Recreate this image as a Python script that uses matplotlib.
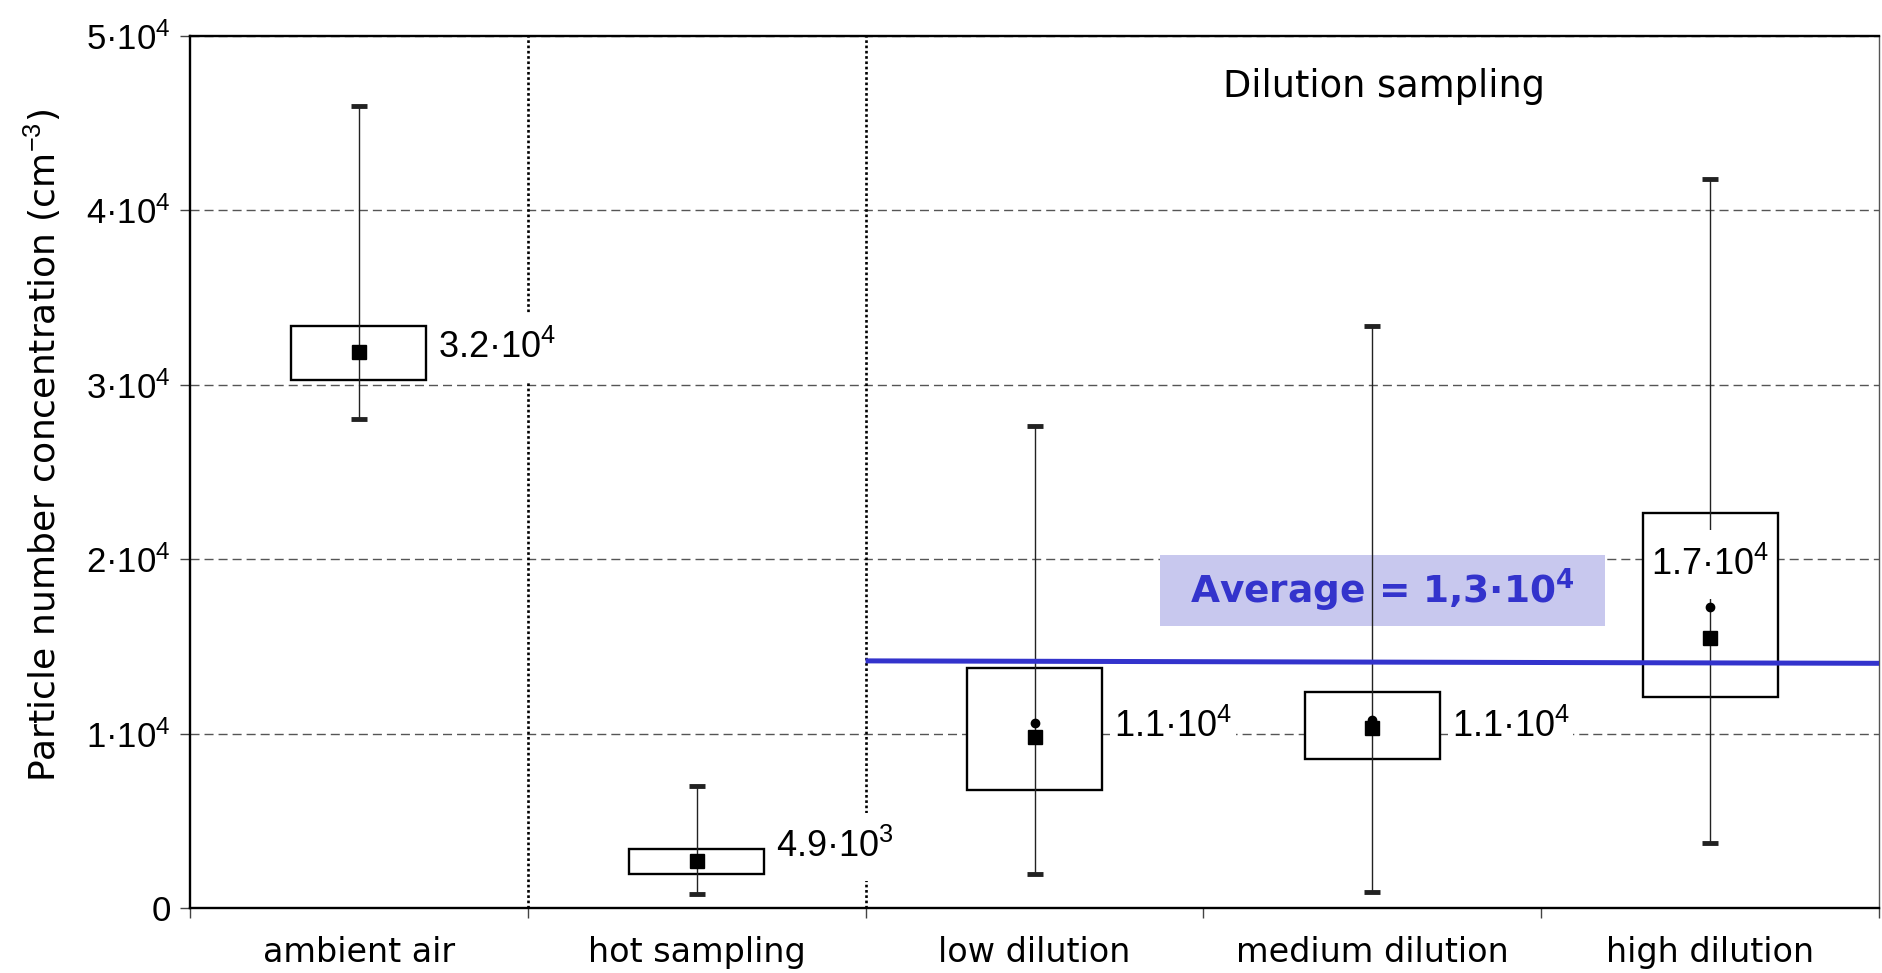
import numpy as np
import matplotlib
matplotlib.use("Agg")
import matplotlib.pyplot as plt

# ---------------- data ----------------
categories = ["ambient air", "hot sampling", "low dilution", "medium dilution", "high dilution"]
whisker_max = [46000, 7000, 27650, 33350, 41800]
whisker_min = [28050, 830, 1930, 890, 3700]
box_high = [33350, 3370, 13760, 12380, 22630]
box_low = [30260, 1930, 6740, 8530, 12100]
square_vals = [31900, 2680, 9830, 10320, 15470]
circle_vals = [np.nan, np.nan, 10590, 10800, 17260]
value_labels = ["3.2·10$^4$", "4.9·10$^3$", "1.1·10$^4$", "1.1·10$^4$", "1.7·10$^4$"]
label_y = [32100, 3500, 10400, 10400, 19700]
average_x = [1.5, 4.5]
average_y = [14170, 14030]
average_label = "Average = 1,3·10$^{\\mathbf{4}}$"
yticks = [0, 10000, 20000, 30000, 40000, 50000]
ytick_labels = ["0", "1·10$^4$", "2·10$^4$", "3·10$^4$", "4·10$^4$", "5·10$^4$"]
section_title = "Dilution sampling"
ylabel = "Particle number concentration (cm$^{\\mathrm{-3}}$)"

# ---------------- style ----------------
plt.rcParams["mathtext.fontset"] = "custom"
plt.rcParams["mathtext.rm"] = "Liberation Sans"
plt.rcParams["mathtext.it"] = "Liberation Sans:italic"
plt.rcParams["mathtext.bf"] = "DejaVu Sans:bold"

W, H = 1882, 973
fig = plt.figure(figsize=(W / 100, H / 100), dpi=100)
ax = fig.add_axes([190 / W, 1 - 908 / H, (1879 - 190) / W, (908 - 36) / H])

x = np.arange(len(categories))
ax.set_xlim(-0.5, len(categories) - 0.5)
ax.set_ylim(0, 50000)

# grid
ax.set_axisbelow(True)
ax.grid(axis="y", color="#555555", linestyle=(0, (6.5, 3.6)), linewidth=1)
ax.grid(axis="x", visible=False)

# dotted separators
for b in [0.5, 1.5]:
    ax.axvline(b, color="black", linestyle=(0, (1, 1)), linewidth=1.9, zorder=1.5)

# boxes
ax.bar(x, np.array(box_high) - np.array(box_low), bottom=box_low, width=0.4,
       facecolor="white", edgecolor="black", linewidth=1.7, zorder=3)

# whiskers
sq = np.array(square_vals)
ax.errorbar(x, sq, yerr=[sq - np.array(whisker_min), np.array(whisker_max) - sq],
            fmt="none", ecolor="#222222", elinewidth=1, capsize=6, capthick=3.5, zorder=4)

# markers
ax.plot(x, square_vals, "s", color="black", markersize=10, zorder=5, linestyle="none")
ax.plot(x, circle_vals, "o", color="black", markersize=6, zorder=5, linestyle="none")

# value labels
label_box = dict(boxstyle="square,pad=0.1", facecolor="white", edgecolor="none",
                 mutation_aspect=4.5)
for i, (t, ly) in enumerate(zip(value_labels, label_y)):
    if i == len(categories) - 1:
        ax.text(x[i], ly, t, ha="center", va="center", fontsize=26,
                family="Liberation Sans", zorder=4.5, bbox=label_box)
    else:
        ax.text(x[i] + 0.235, ly, t, ha="left", va="center", fontsize=26,
                family="Liberation Sans", zorder=4.5, bbox=label_box)

# average line
ax.plot(average_x, average_y, color="#3333cc", linewidth=3.6, zorder=6, solid_capstyle="butt")
ax.text(3.03, 18200, average_label, ha="center", va="center", fontsize=27,
        fontweight="bold", color="#3333cc", family="DejaVu Sans", zorder=3.5,
        bbox=dict(boxstyle="square,pad=0.8", facecolor="#c8c8ee", edgecolor="none",
                  mutation_aspect=0.38))

ax.text(3.035, 47100, section_title, ha="center", va="center", fontsize=26.5,
        family="DejaVu Sans")

# axes ticks
ax.set_yticks(yticks)
ax.set_yticklabels(ytick_labels, fontsize=25, family="Liberation Sans")
ax.tick_params(axis="y", direction="out", length=7, width=1, color="#444444", pad=7)

ax.set_xticks(np.arange(len(categories) + 1) - 0.5)
ax.set_xticklabels([])
ax.set_xticks(x, minor=True)
ax.set_xticklabels(categories, minor=True, fontsize=24, family="DejaVu Sans")
ax.tick_params(axis="x", which="major", direction="out", length=7, width=1, color="#444444")
ax.tick_params(axis="x", which="minor", length=0, pad=20)

for s in ["left", "bottom", "top"]:
    ax.spines[s].set_linewidth(1.7)
    ax.spines[s].set_color("black")
ax.spines["right"].set_linewidth(1)
ax.spines["right"].set_color("#555555")

fig.text(42 / W, 1 - 446 / H, ylabel, rotation=90, ha="center", va="center",
         fontsize=26, family="DejaVu Sans")

fig.savefig("out.png", dpi=100)
